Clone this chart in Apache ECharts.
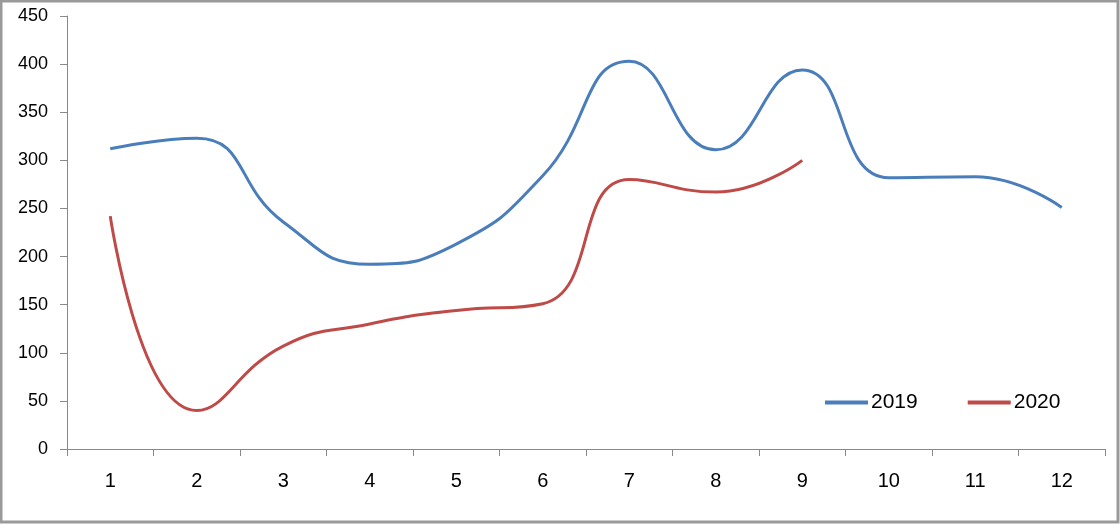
<!DOCTYPE html>
<html><head><meta charset="utf-8">
<script src="https://cdn.jsdelivr.net/npm/echarts@6/dist/echarts.min.js"></script>
<style>html,body{margin:0;padding:0;background:#fff}#c{width:1120px;height:524px}</style>
</head><body><div id="c"></div>
<script>
const categories = ['1','2','3','4','5','6','7','8','9','10','11','12'];
const series2019 = [312, 323, 236, 192, 213, 284, 403, 311, 394, 282, 283, 251];
const series2020 = [242, 40, 107, 130, 144, 151, 280, 267, 300];
const seriesNames = ['2019', '2020'];

const chart = echarts.init(document.getElementById('c'));
const font = 'Liberation Sans';
chart.setOption({
  animation: false,
  backgroundColor: '#fff',
  grid: {left: 67, right: 15, top: 16, bottom: 75},
  graphic: [{type: 'rect', shape: {x: 1, y: 1, width: 1117, height: 521}, style: {fill: 'none', stroke: '#9a9a9a', lineWidth: 3}, silent: true}],
  legend: {
    left: 820, top: 387, itemWidth: 43, itemHeight: 4, itemGap: 50, icon: 'rect',
    textStyle: {fontFamily: font, fontSize: 21, color: '#000', padding: [0, 0, 0, -2]},
    data: seriesNames
  },
  xAxis: {
    type: 'category', data: categories, boundaryGap: true,
    axisLine: {lineStyle: {color: '#888', width: 1}},
    axisTick: {show: true, length: 7, lineStyle: {color: '#888'}},
    axisLabel: {fontFamily: font, fontSize: 20, color: '#000', margin: 22}
  },
  yAxis: {
    type: 'value', min: 0, max: 450, interval: 50,
    axisLine: {show: true, lineStyle: {color: '#888', width: 1}},
    axisTick: {show: true, length: 7, lineStyle: {color: '#888'}},
    splitLine: {show: false},
    axisLabel: {fontFamily: font, fontSize: 18, color: '#000', margin: 19}
  },
  series: [
    {name: seriesNames[0], type: 'line', data: series2019, smooth: 0.5, symbol: 'none', lineStyle: {color: '#4a7ebb', width: 3}, itemStyle: {color: '#4a7ebb'}},
    {name: seriesNames[1], type: 'line', data: series2020, smooth: 0.5, symbol: 'none', lineStyle: {color: '#be4b48', width: 3}, itemStyle: {color: '#be4b48'}}
  ]
});
</script></body></html>
